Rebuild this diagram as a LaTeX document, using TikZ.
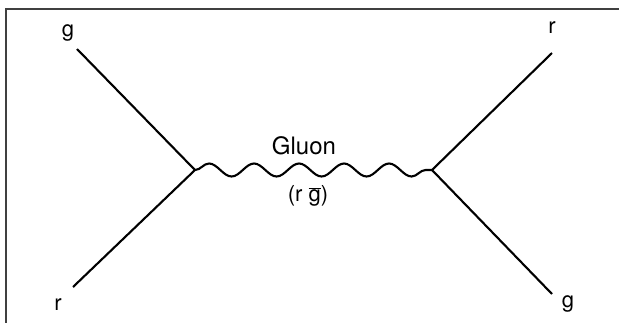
\documentclass[tikz,border=0pt]{standalone}
\usepackage{fontspec}
\setmainfont{TeX Gyre Heros}
\usetikzlibrary{positioning, decorations.pathmorphing}

\begin{document}
\begin{tikzpicture}[x=1pt, y=-1pt,
    quark/.style={line width=2.1pt},
    gluon/.style={line width=2.1pt, decorate, decoration={snake, segment length=45pt, amplitude=6.5pt}},
    lbl/.style={font=\fontsize{22}{26}\selectfont, inner sep=0pt}]
        \clip (0,0) rectangle (619,322);
        \draw[line width=2pt, black!75] (6,9) rectangle (640,345);
        % vertices and free ends
        \coordinate (vl) at (195,170);
        \coordinate (vr) at (432,170);
        \coordinate (gin) at (77,49);
        \coordinate (rin) at (73,287);
        \coordinate (rout) at (552,53);
        \coordinate (gout) at (552,294);
        \coordinate (mid) at (304,170);
        \node[lbl] (glabin) at (68,33) {g};
        \node[lbl] (rlabin) at (58,305) {r};
        \node[lbl] (rlabout) at (552,28) {r};
        \node[lbl] (glabout) at (568,304) {g};
        \node[lbl, font=\fontsize{24}{28}\selectfont, above=15pt of mid] (name) {Gluon};
        \node[lbl] (colour) at (308,196) {(r $\overline{\mbox{g}}$)};
        \draw[quark] (gin) -- (vl);
        \draw[quark] (rin) -- (vl);
        \draw[gluon] (vl) -- (vr);
        \draw[quark] (vr) -- (rout);
        \draw[quark] (vr) -- (gout);
    \end{tikzpicture}
\end{document}
